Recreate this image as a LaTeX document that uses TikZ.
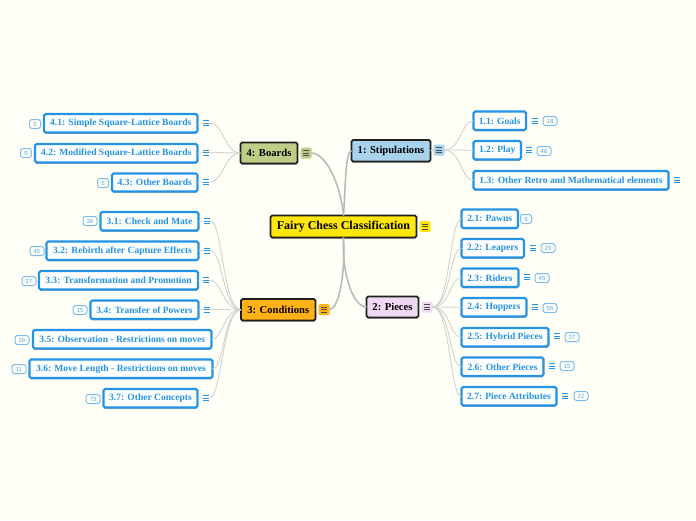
\documentclass[tikz,border=0pt]{standalone}
\usepackage{fontspec}
\setmainfont{Liberation Serif}
\setsansfont{Liberation Sans}
\usetikzlibrary{shadows}
\definecolor{paper}{HTML}{FFFFF8}
\definecolor{leafblue}{HTML}{2393E6}
\definecolor{linegray}{HTML}{D2D2CE}
\definecolor{mainline}{HTML}{B8B8B4}
\definecolor{badgeblue}{HTML}{7CBCEC}
\definecolor{rootfill}{HTML}{FFE70D}
\definecolor{stipfill}{HTML}{A9D3EC}
\definecolor{boardfill}{HTML}{BFCE87}
\definecolor{condfill}{HTML}{FFB216}
\definecolor{piecefill}{HTML}{EFD8F1}
\tikzset{
  x=1pt,y=-1pt,
  boxbase/.style={rectangle,rounded corners=1.6pt,inner sep=0pt,outer sep=0pt,align=center,
    drop shadow={shadow xshift=0pt,shadow yshift=-1.4pt,fill=black,opacity=.3}},
  leafbox/.style={boxbase,draw=leafblue,fill=white,line width=2.1pt,text=leafblue,font=\fontsize{9.55}{11}\selectfont\bfseries},
  topicbox/.style={boxbase,draw=black!88,line width=1.7pt,text=black,font=\fontsize{10.6}{12}\selectfont\bfseries},
  rootbox/.style={topicbox,font=\fontsize{12}{14}\selectfont\bfseries},
  iconbase/.style={rectangle,inner sep=0pt,outer sep=0pt,minimum width=7pt,minimum height=7pt,
    path picture={\foreach \k in {-2.4,0,2.4}{\draw[line width=.8pt,draw=#1]
      ([xshift=-3pt,yshift=\k pt]path picture bounding box.center)--([xshift=3pt,yshift=\k pt]path picture bounding box.center);}}},
  leaficon/.style={iconbase=leafblue},
  topicicon/.style={iconbase=black!70,fill=#1,rounded corners=1.5pt,minimum width=11pt,minimum height=11pt},
  badge/.style={rectangle,rounded corners=2.5pt,draw=badgeblue,line width=1pt,fill=paper,inner sep=0pt,
    minimum height=9pt,minimum width=#1,text=leafblue!80,font=\sffamily\fontsize{6}{7}\selectfont},
  badge/.default=14pt,
  bigline/.style={draw=mainline,line width=1.5pt},
  twig/.style={draw=linegray,line width=.9pt},
  tick/.style={draw=linegray,line width=.8pt},
}
\newcommand{\boxnode}[8]{\node[#1,fill=#8,minimum width={(#4-#3)*1pt},minimum height={(#6-#5)*1pt}] (#2) at ({(#3+#4)/2},{(#5+#6)/2}) {#7};}
\begin{document}
\begin{tikzpicture}
\useasboundingbox[fill=paper] (0,0) rectangle (696,520);

% hub icons
\node[topicicon=boardfill] (iB) at (306,153) {};
\node[topicicon=stipfill] (iS) at (439,150) {};
\node[topicicon=rootfill] (iR) at (425,226.5) {};
\node[topicicon=condfill] (iC) at (324,309.5) {};
\node[topicicon=piecefill] (iP) at (427,307) {};

% leaf icons
\node[leaficon] (i41) at (206,123) {};
\node[leaficon] (i42) at (206,152.5) {};
\node[leaficon] (i43) at (206,182) {};
\node[leaficon] (i31) at (207,221) {};
\node[leaficon] (i32) at (207,250.5) {};
\node[leaficon] (i33) at (206,280) {};
\node[leaficon] (i34) at (207,309.5) {};
\node[leaficon] (i37) at (206,398) {};
\node[leaficon] (i11) at (535,121) {};
\node[leaficon] (i12) at (529,150) {};
\node[leaficon] (i13) at (677,180) {};
\node[leaficon] (i22) at (533,248) {};
\node[leaficon] (i23) at (527,277) {};
\node[leaficon] (i24) at (535,307) {};
\node[leaficon] (i25) at (557,336) {};
\node[leaficon] (i26) at (552,366) {};
\node[leaficon] (i27) at (565,396) {};

% main nodes
\boxnode{rootbox}{root}{270.5}{416.5}{215.5}{237.5}{Fairy Chess Classification}{rootfill}
\boxnode{topicbox}{boards}{240.5}{297.5}{142.5}{163.5}{4: Boards}{boardfill}
\boxnode{topicbox}{stip}{351.5}{430.5}{140}{161.5}{1: Stipulations}{stipfill}
\boxnode{topicbox}{cond}{241}{315.5}{299}{320.5}{3: Conditions}{condfill}
\boxnode{topicbox}{piece}{366.5}{418.5}{296.5}{317.5}{2: Pieces}{piecefill}

% leaves
\boxnode{leafbox}{n41}{44}{197.5}{114}{132.5}{4.1: Simple Square-Lattice Boards}{white}
\boxnode{leafbox}{n42}{35}{197.5}{144}{162.5}{4.2: Modified Square-Lattice Boards}{white}
\boxnode{leafbox}{n43}{112}{197.5}{173.5}{191.5}{4.3: Other Boards}{white}
\boxnode{leafbox}{n31}{100.5}{198.5}{212}{230.5}{3.1: Check and Mate}{white}
\boxnode{leafbox}{n32}{46.5}{198.5}{241.5}{260}{3.2: Rebirth after Capture Effects}{white}
\boxnode{leafbox}{n33}{39}{198}{271}{289.5}{3.3: Transformation and Promotion}{white}
\boxnode{leafbox}{n34}{90.5}{198.5}{300.5}{319}{3.4: Transfer of Powers}{white}
\boxnode{leafbox}{n35}{33}{211.5}{330}{348.5}{3.5: Observation - Restrictions on moves}{white}
\boxnode{leafbox}{n36}{29.5}{212.5}{359.5}{378}{3.6: Move Length - Restrictions on moves}{white}
\boxnode{leafbox}{n37}{103.5}{197.5}{389}{407.5}{3.7: Other Concepts}{white}
\boxnode{leafbox}{n11}{473.5}{526}{111.5}{130}{1.1: Goals}{white}
\boxnode{leafbox}{n12}{473.5}{521}{141}{159.5}{1.2: Play}{white}
\boxnode{leafbox}{n13}{473.5}{668.5}{171}{189.5}{1.3: Other Retro and Mathematical elements}{white}
\boxnode{leafbox}{n21}{461.5}{518}{209.5}{228}{2.1: Pawns}{white}
\boxnode{leafbox}{n22}{461.5}{524}{239}{257.5}{2.2: Leapers}{white}
\boxnode{leafbox}{n23}{461.5}{518.5}{268.5}{287}{2.3: Riders}{white}
\boxnode{leafbox}{n24}{461.5}{526.5}{298}{316.5}{2.4: Hoppers}{white}
\boxnode{leafbox}{n25}{461.5}{548.5}{328}{346.5}{2.5: Hybrid Pieces}{white}
\boxnode{leafbox}{n26}{461.5}{543.5}{357.5}{376}{2.6: Other Pieces}{white}
\boxnode{leafbox}{n27}{461.5}{556.5}{387}{405.5}{2.7: Piece Attributes}{white}

% badges
\node[badge=11pt] (b41) at (35,124) {5};
\node[badge=11pt] (b42) at (26,153) {9};
\node[badge=11pt] (b43) at (103,183) {5};
\node[badge] (b31) at (90,221) {36};
\node[badge] (b32) at (37,251) {45};
\node[badge] (b33) at (29,281) {27};
\node[badge] (b34) at (80,310) {15};
\node[badge] (b35) at (22,340) {26};
\node[badge] (b36) at (19,369) {11};
\node[badge] (b37) at (93,399) {73};
\node[badge] (b11) at (550,121) {18};
\node[badge] (b12) at (544,151) {46};
\node[badge=11pt] (b21) at (526,219) {9};
\node[badge] (b22) at (548,248) {29};
\node[badge] (b23) at (542,278) {45};
\node[badge] (b24) at (550,308) {56};
\node[badge] (b25) at (572,337) {37};
\node[badge] (b26) at (567,366) {15};
\node[badge] (b27) at (581,396) {22};

% trunk connectors
\draw[bigline] (iB.east) .. controls +(14,0) and +(-3,-32) .. (root.north);
\draw[bigline] (stip.west) .. controls +(-6,0) and +(2,-30) .. (root.north);
\draw[bigline] (iC.east) .. controls +(9,0) and +(2,38) .. (root.south);
\draw[bigline] (piece.west) .. controls +(-14,0) and +(-2,34) .. (root.south);

% ticks between boxes and icons
\foreach \a/\b in {n41/i41,n42/i42,n43/i43,n31/i31,n32/i32,n33/i33,n34/i34,n37/i37}{\draw[tick] (\a.east)--(\b.west);}
\draw[tick] (boards.east)--(iB.west);
\draw[tick] (stip.east)--(iS.west);
\draw[tick] (cond.east)--(iC.west);
\draw[tick] (piece.east)--(iP.west);

% boards twigs
\foreach \a in {i41,i42,i43}{\draw[twig] (\a.east) .. controls +(14,0) and +(-16,0) .. (boards.west);}
% conditions twigs
\foreach \a in {i31,i32,i33,i34,n35,n36,i37}{\draw[twig] (\a.east) .. controls +(12,0) and +(-18,0) .. (cond.west);}
% stipulations twigs
\foreach \a in {n11,n12,n13}{\draw[twig] (iS.east) .. controls +(16,0) and +(-12,0) .. (\a.west);}
% pieces twigs
\foreach \a in {n21,n22,n23,n24,n25,n26,n27}{\draw[twig] (iP.east) .. controls +(18,0) and +(-12,0) .. (\a.west);}
\end{tikzpicture}
\end{document}
